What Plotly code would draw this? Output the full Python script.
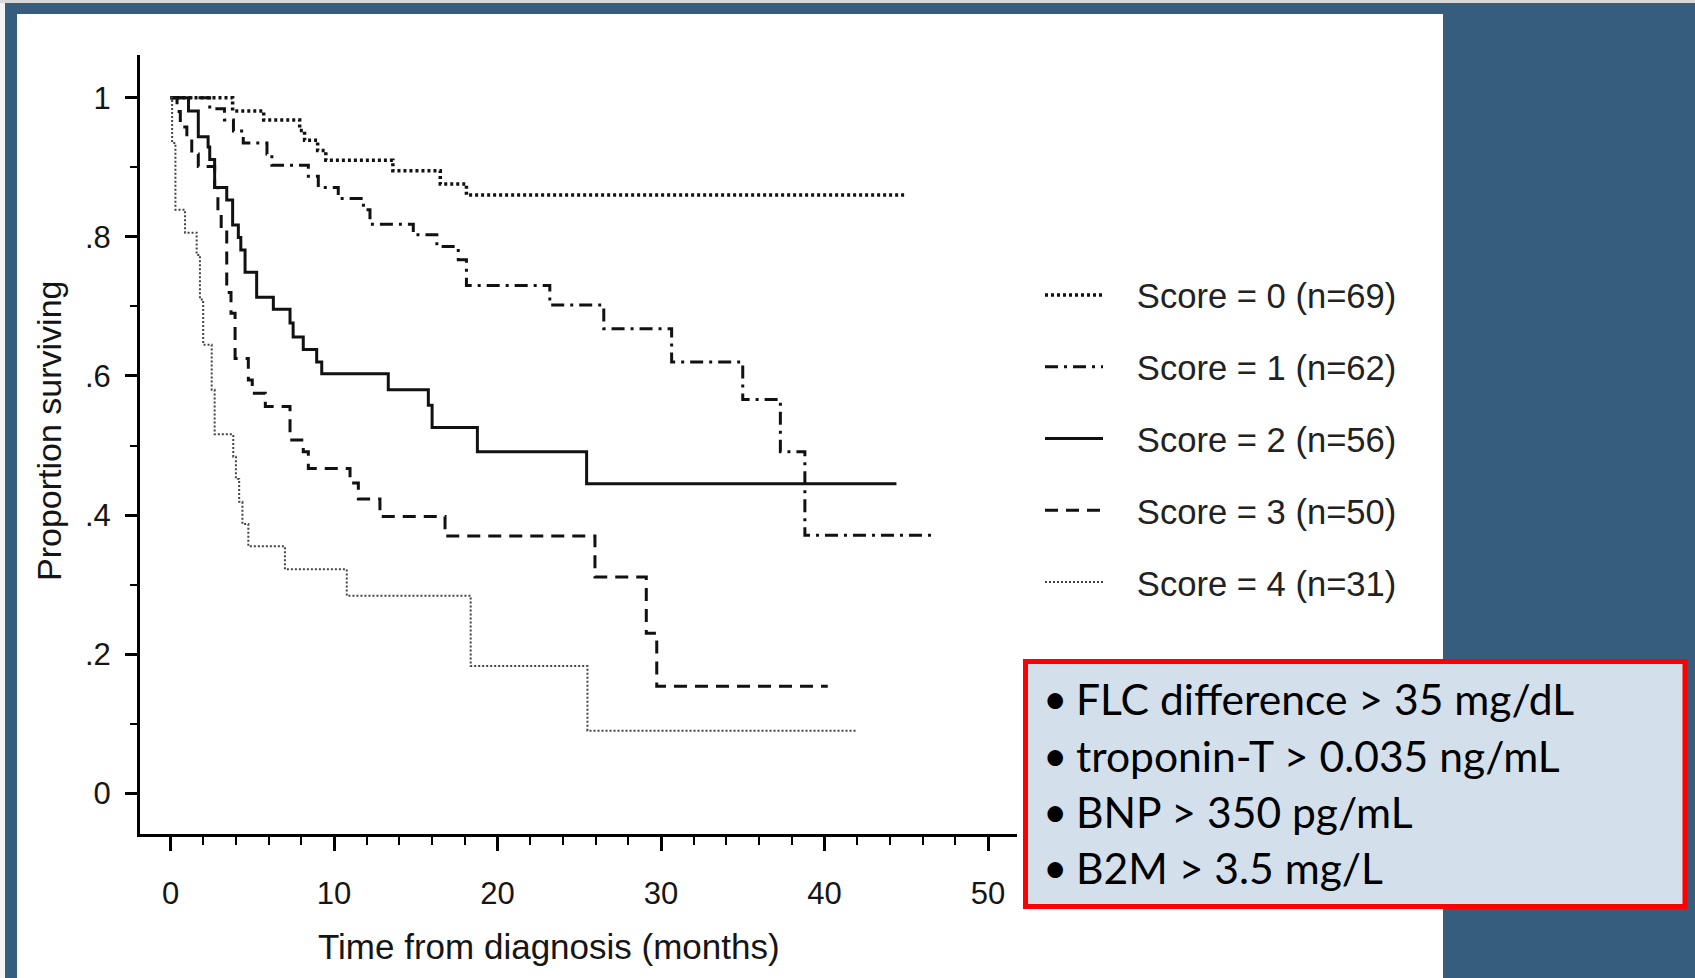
import plotly.graph_objects as go

# ---------------- data ----------------
score0_t = [0, 3.8, 5.7, 7.9, 8.2, 9.0, 9.5, 13.6, 16.5, 18.1, 44.9]
score0_s = [1.0, 0.981, 0.968, 0.953, 0.939, 0.924, 0.910, 0.895, 0.876, 0.860, 0.860]

score1_t = [0, 2.4, 3.3, 3.85, 4.45, 5.9, 6.2, 8.43, 9.04, 10.26, 11.8, 12.2,
            14.85, 16.29, 17.6, 18.1, 23.2, 26.5, 30.65, 35.0, 37.3, 38.8, 46.8]
score1_s = [1.0, 0.984, 0.968, 0.952, 0.935, 0.919, 0.903, 0.887, 0.871, 0.855, 0.839, 0.818,
            0.803, 0.786, 0.767, 0.730, 0.702, 0.668, 0.620, 0.566, 0.491, 0.371, 0.371]

score2_t = [0, 1.1, 1.7, 2.3, 2.4, 2.7, 3.44, 3.8, 4.15, 4.3, 4.56, 5.27, 6.29, 7.31, 7.5,
            8.12, 8.94, 9.25, 13.32, 15.77, 16.0, 18.77, 25.45, 44.4]
score2_s = [1.0, 0.981, 0.944, 0.929, 0.911, 0.871, 0.853, 0.817, 0.799, 0.781, 0.749, 0.713,
            0.696, 0.676, 0.656, 0.638, 0.620, 0.603, 0.580, 0.558, 0.526, 0.491, 0.445, 0.445]

score3_t = [0, 0.4, 0.6, 1.0, 1.3, 1.7, 2.7, 2.9, 3.1, 3.44, 3.7, 3.95, 4.76, 5.0, 5.8,
            7.31, 8.12, 8.43, 10.98, 11.49, 12.81, 16.79, 25.96, 29.1, 29.74, 40.2]
score3_s = [1.0, 0.98, 0.958, 0.942, 0.919, 0.901, 0.871, 0.834, 0.810, 0.720, 0.690, 0.625,
            0.594, 0.575, 0.556, 0.508, 0.491, 0.467, 0.446, 0.423, 0.398, 0.370, 0.311,
            0.230, 0.154, 0.154]

score4_t = [0, 0.1, 0.3, 0.89, 1.6, 1.8, 2.0, 2.52, 2.7, 3.84, 4.0, 4.2, 4.4, 4.76,
            7.0, 10.78, 18.36, 25.5, 42.0]
score4_s = [1.0, 0.935, 0.839, 0.806, 0.774, 0.710, 0.645, 0.580, 0.516, 0.484, 0.452,
            0.419, 0.387, 0.355, 0.322, 0.284, 0.183, 0.090, 0.090]

legend_names = ["Score = 0 (n=69)", "Score = 1 (n=62)", "Score = 2 (n=56)",
                "Score = 3 (n=50)", "Score = 4 (n=31)"]

y_tickvals = [0, 0.2, 0.4, 0.6, 0.8, 1.0]
y_ticktext = ["0", ".2", ".4", ".6", ".8", "1"]
x_tickvals = [0, 10, 20, 30, 40, 50]

box_lines = ["FLC difference > 35 mg/dL", "troponin-T > 0.035 ng/mL",
             "BNP > 350 pg/mL", "B2M > 3.5 mg/L"]

# ---------------- layout geometry ----------------
W, H = 1695, 978
PL, PR, PT, PB = 140, 1017, 55, 834          # plot area in pixels


def px(X):
    return (X - PL) / (PR - PL)


def py(Y):
    return (PB - Y) / (PB - PT)


BLUE = "#365D7E"
FONT = "Liberation Sans, Arial, sans-serif"
NB = "\u00a0"

styles = [
    dict(color="#111111", width=3.5, dash="3px,3px"),
    dict(color="#111111", width=3, dash="13px,6px,3px,6px"),
    dict(color="#111111", width=3),
    dict(color="#111111", width=3, dash="13px,8px"),
    dict(color="#444444", width=2, dash="2px,2px"),
]
series = [(score0_t, score0_s), (score1_t, score1_s), (score2_t, score2_s),
          (score3_t, score3_s), (score4_t, score4_s)]

fig = go.Figure()
for i, ((t, s), st) in enumerate(zip(series, styles)):
    fig.add_trace(go.Scatter(x=t, y=s, mode="lines", line=dict(shape="hv", **st),
                             name=NB * 3 + legend_names[i], legendgroup=f"g{i}"))

shapes = [
    # white panel
    dict(type="rect", xref="paper", yref="paper", x0=px(17), x1=px(1443), y0=py(1000), y1=py(14),
         fillcolor="white", line=dict(width=0), layer="below"),
    # thin light strip on far left and top
    dict(type="rect", xref="paper", yref="paper", x0=px(0), x1=px(5), y0=py(1000), y1=py(0),
         fillcolor="#f4f4f4", line=dict(width=0), layer="below"),
    dict(type="rect", xref="paper", yref="paper", x0=px(0), x1=px(1695), y0=py(3), y1=py(0),
         fillcolor="#d8d8d8", line=dict(width=0), layer="below"),
    # info box
    dict(type="rect", xref="paper", yref="paper", x0=px(1025.5), x1=px(1685), y0=py(906.5), y1=py(661.5),
         fillcolor="#D3E0EC", line=dict(color="#FF0000", width=5), layer="above"),
]

annotations = [
    dict(text="Time from diagnosis (months)", xref="paper", yref="paper", x=px(549), y=py(946),
         xanchor="center", yanchor="middle", showarrow=False,
         font=dict(family=FONT, size=35, color="#151515")),
    dict(text="Proportion surviving", xref="paper", yref="paper", x=px(49), y=py(431),
         xanchor="center", yanchor="middle", showarrow=False, textangle=-90,
         font=dict(family=FONT, size=34, color="#151515")),
]
row_y = [698, 755, 811, 867]
for txt, yy in zip(box_lines, row_y):
    annotations.append(dict(text="•", xref="paper", yref="paper", x=px(1055), y=py(yy),
                            xanchor="center", yanchor="middle", showarrow=False,
                            font=dict(family="Lato, sans-serif", size=42, color="black")))
    annotations.append(dict(text=txt, xref="paper", yref="paper", x=px(1074), y=py(yy),
                            xanchor="left", yanchor="middle", showarrow=False,
                            font=dict(family="Lato, sans-serif", size=42.6, color="black")))

fig.update_layout(
    width=W, height=H,
    margin=dict(l=PL, r=W - PR, t=PT, b=H - PB, pad=0),
    paper_bgcolor=BLUE, plot_bgcolor="rgba(0,0,0,0)",
    showlegend=True,
    legend=dict(x=px(1040), y=py(266), xanchor="left", yanchor="top",
                bgcolor="rgba(0,0,0,0)", itemwidth=58, tracegroupgap=23.8,
                font=dict(family=FONT, size=34.6, color="#222222")),
    shapes=shapes, annotations=annotations,
    xaxis=dict(range=[(PL - 170.5) / 16.35, (PR - 170.5) / 16.35], showline=True,
               linewidth=3, linecolor="black", zeroline=False, showgrid=False,
               tickmode="array", tickvals=x_tickvals, ticks="outside", ticklen=14,
               tickwidth=2.5, tickcolor="black", ticklabelstandoff=16,
               minor=dict(dtick=2, tick0=0, ticks="outside", ticklen=8, tickwidth=2,
                          tickcolor="black"),
               tickfont=dict(family=FONT, size=31, color="#151515")),
    yaxis=dict(range=[(793.3 - PB) / 695.6, (793.3 - PT) / 695.6], showline=True,
               linewidth=3, linecolor="black", zeroline=False, showgrid=False,
               tickmode="array", tickvals=y_tickvals, ticktext=y_ticktext,
               ticks="outside", ticklen=12, tickwidth=2.5, tickcolor="black",
               ticklabelstandoff=8,
               minor=dict(dtick=0.1, tick0=0, ticks="outside", ticklen=7, tickwidth=2,
                          tickcolor="black"),
               tickfont=dict(family=FONT, size=31, color="#151515")),
)

fig.write_html("out.html")
